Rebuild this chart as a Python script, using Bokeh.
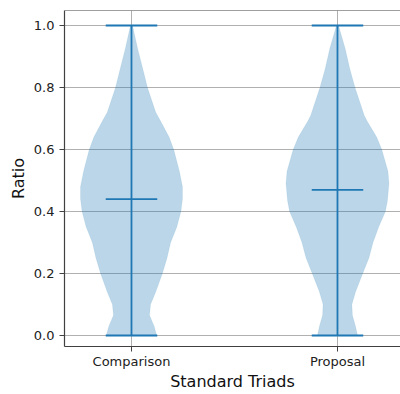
import numpy as np
from bokeh.plotting import figure
from bokeh.models import FixedTicker, PrintfTickFormatter, Span
from bokeh.embed import file_html
from bokeh.resources import INLINE

# ---- data ----
categories = ["Comparison", "Proposal"]
positions = [1, 2]
mins = [0.0, 0.0]
maxes = [1.0, 1.0]
medians = [0.44, 0.47]
y_ticks = [0.0, 0.2, 0.4, 0.6, 0.8, 1.0]
x_title = "Standard Triads"
y_title = "Ratio"

# kernel density profile (relative to each violin's peak)
levels_comparison = [0.0, 0.03, 0.065, 0.1, 0.14, 0.2, 0.25, 0.3, 0.35, 0.4, 0.44,
                     0.48, 0.53, 0.6, 0.64, 0.69, 0.72, 0.8, 0.86, 0.925, 1.0]
density_comparison = [0.49, 0.44, 0.35, 0.37, 0.47, 0.60, 0.69, 0.76, 0.88, 0.96, 0.99,
                      0.99, 0.93, 0.82, 0.73, 0.57, 0.47, 0.31, 0.22, 0.12, 0.02]
levels_proposal = [0.0, 0.03, 0.065, 0.1, 0.14, 0.2, 0.25, 0.3, 0.35, 0.4, 0.435,
                   0.49, 0.53, 0.6, 0.64, 0.69, 0.71, 0.8, 0.86, 0.925, 1.0]
density_proposal = [0.39, 0.35, 0.29, 0.28, 0.35, 0.49, 0.61, 0.69, 0.80, 0.93, 0.97,
                    1.0, 0.98, 0.86, 0.76, 0.58, 0.52, 0.34, 0.24, 0.15, 0.02]

levels = [levels_comparison, levels_proposal]
densities = [density_comparison, density_proposal]

# ---- style ----
BLUE = "#1f77b4"
FONT = "DejaVu Sans"
half_width = 0.25
cap_half = 0.125
Y_START, Y_END = -0.0355, 1.0484
X_START, X_END = 0.6748, 2.3059

p = figure(width=400, height=394, x_range=(X_START, X_END), y_range=(Y_START, Y_END),
           output_backend="svg", toolbar_location=None,
           min_border_left=64, min_border_right=0, min_border_top=10, min_border_bottom=48)

# violins
xs, ys = [], []
for pos, lv, dn in zip(positions, levels, densities):
    lv = np.asarray(lv)
    dn = np.asarray(dn) * half_width
    xs.append(list(pos + dn) + list((pos - dn)[::-1]))
    ys.append(list(lv) + list(lv[::-1]))
p.patches(xs, ys, fill_color=BLUE, fill_alpha=0.3, line_color=BLUE, line_alpha=0.15, line_width=0.5)

# bars and caps
lw = 1.8
p.segment(x0=positions, y0=mins, x1=positions, y1=maxes, line_color=BLUE, line_width=lw)
for vals in (mins, maxes, medians):
    p.segment(x0=[q - cap_half for q in positions], y0=vals,
              x1=[q + cap_half for q in positions], y1=vals,
              line_color=BLUE, line_width=lw)

# axes
p.xaxis.ticker = FixedTicker(ticks=positions)
p.xaxis.major_label_overrides = {q: c for q, c in zip(positions, categories)}
p.yaxis.ticker = FixedTicker(ticks=y_ticks)
p.yaxis.formatter = PrintfTickFormatter(format="%.1f")
p.xaxis.axis_label = x_title
p.yaxis.axis_label = y_title
for ax in (p.xaxis[0], p.yaxis[0]):
    ax.axis_label_text_font = FONT
    ax.axis_label_text_font_style = "normal"
    ax.axis_label_text_color = "#111111"
    ax.axis_label_text_font_size = "16px"
    ax.major_label_text_font = FONT
    ax.major_label_text_font_size = "13px"
    ax.major_label_text_color = "#222222"
    ax.minor_tick_line_color = None
    ax.major_tick_out = 5
    ax.major_tick_in = 0
    ax.major_tick_line_color = "#404040"
    ax.axis_line_color = "#404040"
    ax.axis_line_width = 1.2
p.yaxis.major_label_standoff = 5
p.yaxis.axis_label_standoff = 3
p.xaxis.major_label_standoff = 2
p.xaxis.axis_label_standoff = 0

p.outline_line_color = None
p.add_layout(Span(location=Y_END, dimension="width", line_color="#404040", line_width=1.2))

p.xgrid.grid_line_color = "#b0b0b0"
p.ygrid.grid_line_color = "#b0b0b0"
p.xgrid.grid_line_width = 1
p.ygrid.grid_line_width = 1

open("out.html", "w").write(file_html(p, INLINE))
